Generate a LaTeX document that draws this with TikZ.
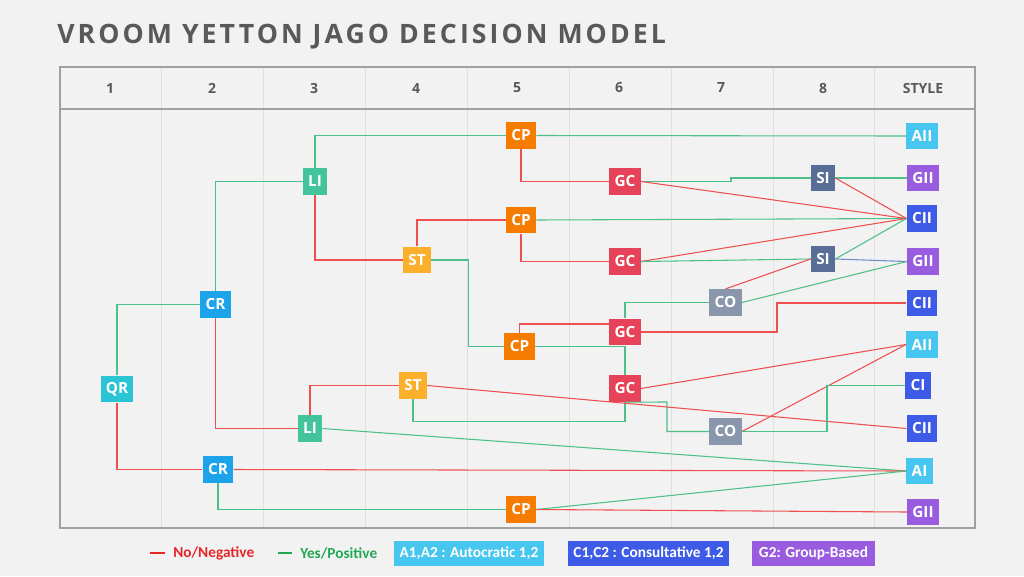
\documentclass[tikz,border=0pt]{standalone}
\usepackage{fontspec}
\setmainfont{Open Sans}
\newfontfamily\legfont{Carlito}
\usetikzlibrary{calc}
\definecolor{bg}{HTML}{F2F2F2}
\definecolor{titlegray}{HTML}{595959}
\definecolor{framegray}{HTML}{A0A0A0}
\definecolor{colgray}{HTML}{E0E0E0}
\definecolor{cRed}{HTML}{EE5050}
\definecolor{cGreen}{HTML}{4CC088}
\definecolor{cBlueLine}{HTML}{6E8CC8}
\definecolor{cQR}{HTML}{2BC4D4}
\definecolor{cCR}{HTML}{1DA3EA}
\definecolor{cLI}{HTML}{43C49C}
\definecolor{cST}{HTML}{FAB02B}
\definecolor{cCP}{HTML}{F57C00}
\definecolor{cGC}{HTML}{E6435A}
\definecolor{cSI}{HTML}{586E96}
\definecolor{cCO}{HTML}{8A96AB}
\definecolor{cA}{HTML}{47C6EF}
\definecolor{cG}{HTML}{9A5CDF}
\definecolor{cC}{HTML}{3D5BE6}
\definecolor{legRed}{HTML}{E8262A}
\definecolor{legGreen}{HTML}{22A855}
\begin{document}
\begin{tikzpicture}[x=0.75pt,y=-0.75pt,
  box/.style={rectangle, fill=#1, text=white, font=\bfseries\fontsize{11.5}{13}\selectfont,
    minimum height=20pt, inner xsep=4pt, inner ysep=0pt},
  negline/.style={draw=cRed, line width=0.8pt},
  posline/.style={draw=cGreen, line width=0.8pt},
  blueline/.style={draw=cBlueLine, line width=0.8pt},
  head/.style={text=titlegray, font=\bfseries\fontsize{10.5}{12}\selectfont},
  legbox/.style={rectangle, fill=#1, text=white, font=\legfont\bfseries\fontsize{11.5}{13}\selectfont,
    minimum height=18.75pt, inner sep=0pt},
  legtext/.style={anchor=west, font=\legfont\bfseries\fontsize{11.5}{13}\selectfont, inner sep=0pt}]
\fill[bg] (0,0) rectangle (1024,576);
% title
\node[anchor=west, inner sep=0pt, text=titlegray, font=\bfseries\fontsize{20}{24}\selectfont\addfontfeature{LetterSpace=11.5}] (title) at (57,37) {VROOM YETTON JAGO DECISION MODEL};
% table
\foreach \x in {161,263,365,467,569,671,773,874} \draw[colgray, line width=0.6pt] (\x,67) -- (\x,528);
\draw[framegray, line width=1.1pt] (60,67) rectangle (975,528);
\draw[framegray, line width=1.1pt] (60,109) -- (975,109);
\foreach \x/\t [count=\i] in {110/1,212/2,314/3,416/4,517/5,619/6,721/7,823/8,923/STYLE}
  \node[head] (h\i) at (\x,88) {\t};
% decision nodes
\node[box=cQR] (qr) at (117,389) {QR};
\node[box=cCR] (cr1) at (215.5,304.5) {CR};
\node[box=cCR] (cr2) at (218,469.5) {CR};
\node[box=cLI] (li1) at (315,181.5) {LI};
\node[box=cLI] (li2) at (310,428.5) {LI};
\node[box=cST] (st1) at (417,260) {ST};
\node[box=cST] (st2) at (413,385.5) {ST};
\node[box=cCP] (cp1) at (521,135.5) {CP};
\node[box=cCP] (cp2) at (521,220) {CP};
\node[box=cCP] (cp3) at (519.5,346.5) {CP};
\node[box=cCP] (cp4) at (521,509.5) {CP};
\node[box=cGC] (gc1) at (625,181.5) {GC};
\node[box=cGC] (gc2) at (625,261.5) {GC};
\node[box=cGC] (gc3) at (625,332) {GC};
\node[box=cGC] (gc4) at (625,388.5) {GC};
\node[box=cSI] (si1) at (823,178) {SI};
\node[box=cSI] (si2) at (823,259) {SI};
\node[box=cCO] (co1) at (725.5,302.5) {CO};
\node[box=cCO] (co2) at (725.5,431.5) {CO};
% style nodes
\node[box=cA] (s1) at (922,136) {AII};
\node[box=cG] (s2) at (923,178) {GII};
\node[box=cC] (s3) at (922,218.5) {CII};
\node[box=cG] (s4) at (923,261.5) {GII};
\node[box=cC] (s5) at (922,303) {CII};
\node[box=cA] (s6) at (922,344.5) {AII};
\node[box=cC] (s7) at (918,385.5) {CI};
\node[box=cC] (s8) at (922,428.5) {CII};
\node[box=cA] (s9) at (919.5,471) {AI};
\node[box=cG] (s10) at (923,512) {GII};
% connectors
\draw[posline] (qr.north) |- (cr1.west);
\draw[negline] (qr.south) |- (cr2.west);
\draw[posline] (cr1.north) |- (li1.west);
\draw[negline] (cr1.south) |- (li2.west);
\draw[posline] (li1.north) |- (cp1.west);
\draw[negline] (li1.south) |- (st1.west);
\draw[negline] (st1.north) |- (cp2.west);
\draw[posline] (st1.east) -- (468.5,260) |- (cp3.west);
\draw[posline] (cp1.east) -- (s1.west);
\draw[negline] (cp1.south) |- (gc1.west);
\draw[posline] (cp2.east) -- (s3.west);
\draw[negline] (cp2.south) |- (gc2.west);
\draw[posline] (gc1.east) -- (731,181.5) |- (si1.west);
\draw[posline] (si1.east) -- (s2.west);
\draw[negline] (gc1.east) -- (s3.west);
\draw[negline] (si1.east) -- (s3.west);
\draw[negline] (gc2.east) -- (s3.west);
\draw[posline] (gc2.east) -- (si2.west);
\draw[posline] (si2.east) -- (s3.west);
\draw[blueline] (si2.east) -- (s4.west);
\draw[negline] (co1.north) -- (si2.west);
\draw[posline] (co1.east) -- (s4.west);
\draw[posline] (gc3.north) |- (co1.west);
\draw[negline] (gc3.east) -- (777,332) |- (s5.west);
\draw[negline] (cp3.north) |- ($(gc3.west)+(0,-8)$);
\draw[posline] (cp3.east) -| (gc4.north);
\draw[negline] (gc4.east) -- (s6.west);
\draw[posline] (gc4.south) -- (667,402) |- (co2.west);
\draw[posline] (st2.south) |- ($(gc4.south)+(0,19.5)$) -- (gc4.south);
\draw[negline] (st2.east) -- (s8.west);
\draw[negline] (li2.north) |- (st2.west);
\draw[posline] (li2.east) -- (s9.west);
\draw[negline] (co2.east) -- (s6.west);
\draw[posline] (co2.east) -- (827,431.5) |- (s7.west);
\draw[negline] (cr2.east) -- (s9.west);
\draw[posline] (cr2.south) |- (cp4.west);
\draw[posline] (cp4.east) -- (s9.west);
\draw[negline] (cp4.east) -- (s10.west);
% legend
\coordinate (lr1) at (150,553);
\coordinate (lr2) at (165,553);
\draw[draw=legRed, line width=1.8pt] (lr1) -- (lr2);
\node[legtext, text=legRed] (lneg) at (173,553) {No/Negative};
\coordinate (lg1) at (278,553);
\coordinate (lg2) at (292,553);
\draw[draw=legGreen, line width=1.8pt] (lg1) -- (lg2);
\node[legtext, text=legGreen] (lpos) at (300,553) {Yes/Positive};
\node[legbox=cA, minimum width=112pt] (la) at (469,553.5) {A1,A2 : Autocratic 1,2};
\node[legbox=cC, minimum width=121pt] (lc) at (648.5,553.5) {C1,C2 : Consultative 1,2};
\node[legbox=cG, minimum width=92pt] (lgb) at (813.5,553.5) {G2: Group-Based};
\end{tikzpicture}
\end{document}
